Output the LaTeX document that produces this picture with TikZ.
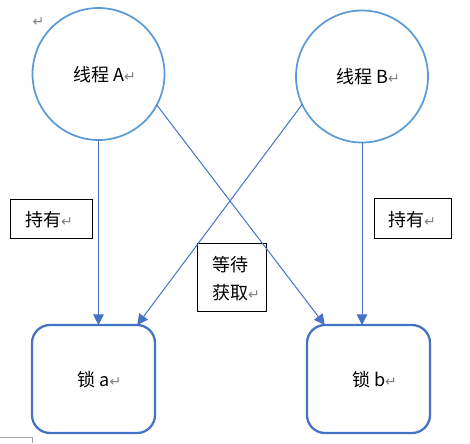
\documentclass[tikz,border=0pt]{standalone}
\usepackage{fontspec}
\setmainfont{Noto Sans CJK SC}
\newfontfamily\markfont{DejaVu Sans}
\usetikzlibrary{arrows.meta}
\definecolor{circblue}{RGB}{91,155,213}
\definecolor{boxblue}{RGB}{68,114,196}
\newcommand{\pmark}{{\markfont\fontsize{10.5}{10.5}\selectfont\textcolor{gray}{↵}}}

\tikzset{every picture/.style={line width=0.75pt}}

\begin{document}
\begin{tikzpicture}[x=0.75pt,y=0.75pt,yscale=-1,xscale=1,
	thread/.style={draw=circblue,line width=1.3pt,circle,minimum size=99pt,inner sep=0pt,outer sep=0pt},
	lockbox/.style={draw=boxblue,line width=1.7pt,rounded corners=13.5pt,minimum width=92.25pt,minimum height=81pt,inner sep=0pt,outer sep=0pt},
	tag/.style={draw=black,fill=white,line width=0.75pt,inner sep=0pt},
	txt/.style={font=\fontsize{13.5}{21}\selectfont,inner sep=0pt},
	link/.style={draw=boxblue,line width=0.75pt,-{Triangle[length=8pt,width=8pt]}}]
	\useasboundingbox (0,0) rectangle (470,443);

	%Shape: Circle [thread A]
	\node[thread] (thA) at (98.5,74) {};
	%Shape: Circle [thread B]
	\node[thread] (thB) at (362,76.5) {};
	%Shape: Rounded Rect [lock a]
	\node[lockbox] (lka) at (93.5,379) {};
	%Shape: Rounded Rect [lock b]
	\node[lockbox] (lkb) at (368.5,379) {};
	%Shape: Rectangle
	\node[tag,minimum width=61.5pt,minimum height=29.25pt] (holdA) at (51,218.5) {};
	%Shape: Rectangle
	\node[tag,minimum width=57.75pt,minimum height=30pt] (holdB) at (412.5,218) {};
	%Shape: Rectangle
	\node[tag,minimum width=51.75pt,minimum height=51pt] (wait) at (231.5,277) {};

	%Straight Lines
	\draw[link] (thA.south) -- (thA.south |- lka.north);
	\draw[link] (thA.-28) -- (lkb.129);
	\draw[link] (thB.205) -- (lka.51);
	\draw[link] (thB.south) -- (thB.south |- lkb.north);
	%Straight Lines [page corner]
	\draw[color={rgb, 255:red, 160; green, 160; blue, 160}] (0,437.5) -- (32.5,437.5) -- (32.5,443);

	% Text Node
	\node[txt] (tA) at (104.5,75) {线程 A\pmark};
	% Text Node
	\node[txt] (tB) at (368,77) {线程 B\pmark};
	% Text Node
	\node[txt] (tHA) at (49,220) {持有\pmark};
	% Text Node
	\node[txt] (tHB) at (412,220) {持有\pmark};
	% Text Node
	\node[txt,align=left] (tW) at (236,279) {等待\\获取\pmark};
	% Text Node
	\node[txt] (tLa) at (99.5,380) {锁 a\pmark};
	% Text Node
	\node[txt] (tLb) at (374.5,380) {锁 b\pmark};
	% Text Node
	\node[inner sep=0pt] (top) at (38.5,22) {\pmark};

\end{tikzpicture}
\end{document}
